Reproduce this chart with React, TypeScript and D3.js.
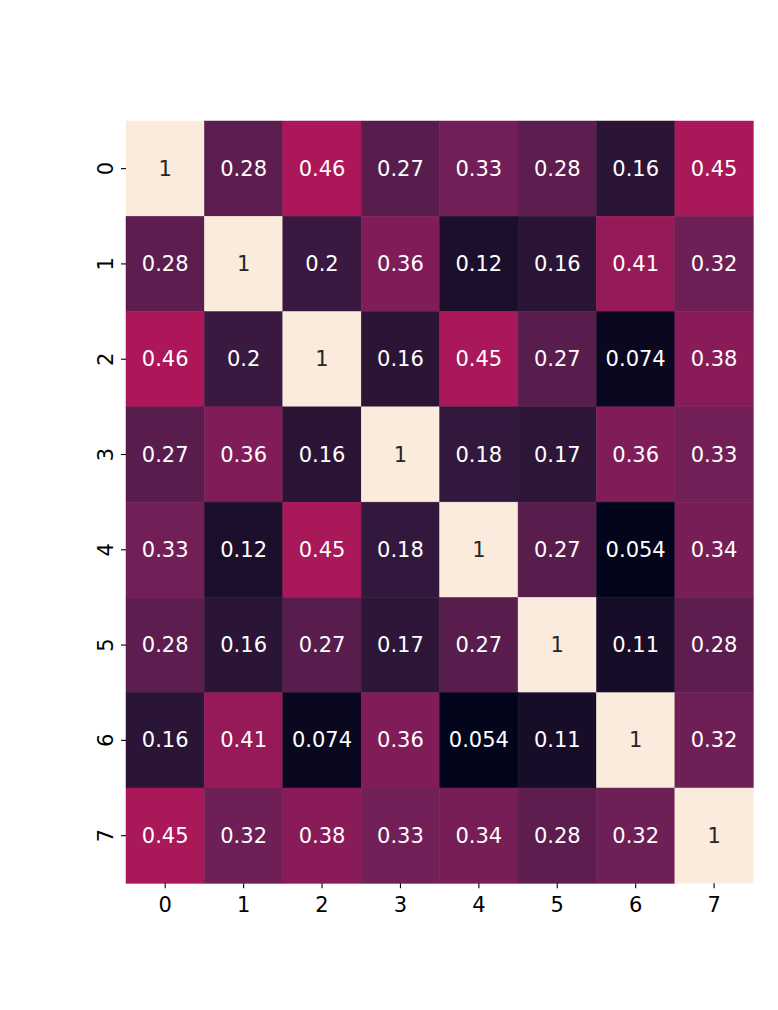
import React from "react";
import * as d3 from "d3";

const labels = ["0", "1", "2", "3", "4", "5", "6", "7"];
const row0 = [1, 0.28, 0.46, 0.27, 0.33, 0.28, 0.16, 0.45];
const row1 = [0.28, 1, 0.2, 0.36, 0.12, 0.16, 0.41, 0.32];
const row2 = [0.46, 0.2, 1, 0.16, 0.45, 0.27, 0.074, 0.38];
const row3 = [0.27, 0.36, 0.16, 1, 0.18, 0.17, 0.36, 0.33];
const row4 = [0.33, 0.12, 0.45, 0.18, 1, 0.27, 0.054, 0.34];
const row5 = [0.28, 0.16, 0.27, 0.17, 0.27, 1, 0.11, 0.28];
const row6 = [0.16, 0.41, 0.074, 0.36, 0.054, 0.11, 1, 0.32];
const row7 = [0.45, 0.32, 0.38, 0.33, 0.34, 0.28, 0.32, 1];
const matrix = [row0, row1, row2, row3, row4, row5, row6, row7];

const rocketStops = ["#03051a", "#35193e", "#701f57", "#ad1759", "#e13342", "#f37651", "#f6b48f", "#faebdd"];

export default function App() {
  const W = 778, H = 1010;
  const left = 126, right = 753.3, top = 121, bottom = 883.3;
  const x = d3.scaleBand().domain(labels).range([left, right]).padding(0);
  const y = d3.scaleBand().domain(labels).range([top, bottom]).padding(0);
  const flat = matrix.flat();
  const vmin = d3.min(flat)!, vmax = d3.max(flat)!;
  const interp = d3.piecewise(d3.interpolateRgb, rocketStops);
  const color = d3.scaleSequential(interp).domain([vmin, vmax]);
  const fmt = (v: number) => String(Number(v.toPrecision(2)));
  const font = "DejaVu Sans, sans-serif";
  const fs = 21;
  return (
    <svg width={W} height={H} style={{ position: "absolute", left: 0, top: 0 }}>
      <rect width={W} height={H} fill="#fff" />
      {matrix.map((row, i) =>
        row.map((v, j) => {
          const c = d3.color(color(v))!.rgb();
          const lum = 0.2126 * c.r + 0.7152 * c.g + 0.0722 * c.b;
          return (
            <g key={`${i}-${j}`}>
              <rect x={x(labels[j])} y={y(labels[i])} width={x.bandwidth()} height={y.bandwidth()} fill={color(v)} stroke={color(v)} strokeWidth={0.5} />
              <text
                x={x(labels[j])! + x.bandwidth() / 2}
                y={y(labels[i])! + y.bandwidth() / 2}
                textAnchor="middle"
                dominantBaseline="central"
                fontFamily={font}
                fontSize={fs}
                fill={lum > 150 ? "#262626" : "#ffffff"}
              >
                {fmt(v)}
              </text>
            </g>
          );
        })
      )}
      {labels.map((l) => (
        <g key={"x" + l}>
          <line x1={x(l)! + x.bandwidth() / 2} x2={x(l)! + x.bandwidth() / 2} y1={bottom} y2={bottom + 5} stroke="#000" strokeWidth={1.1} />
          <text x={x(l)! + x.bandwidth() / 2} y={911.5} textAnchor="middle" fontFamily={font} fontSize={fs} fill="#000">{l}</text>
        </g>
      ))}
      {labels.map((l) => {
        const cy = y(l)! + y.bandwidth() / 2;
        return (
          <g key={"y" + l}>
            <line x1={left - 5} x2={left} y1={cy} y2={cy} stroke="#000" strokeWidth={1.1} />
            <text transform={`translate(112.5,${cy}) rotate(-90)`} textAnchor="middle" fontFamily={font} fontSize={fs} fill="#000">{l}</text>
          </g>
        );
      })}
    </svg>
  );
}
